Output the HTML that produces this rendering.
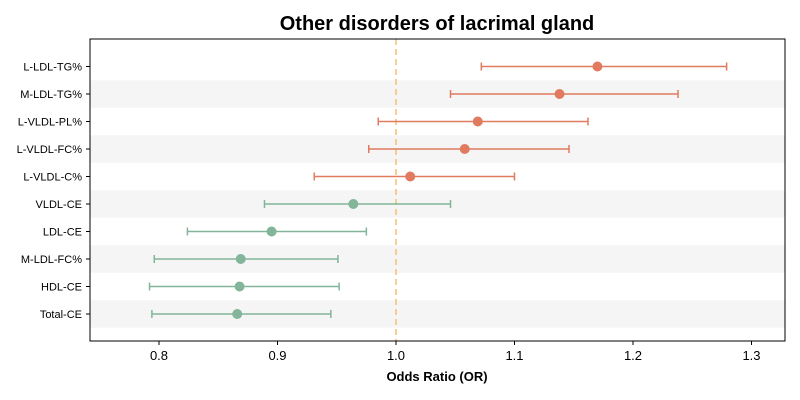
<!DOCTYPE html>
<html><head><meta charset="utf-8"><style>
html,body{margin:0;padding:0;background:#fff;}
svg{display:block;font-family:"Liberation Sans",sans-serif;}
</style></head><body>
<svg id="chart" width="800" height="400">
<text x="437" y="30" text-anchor="middle" font-size="20" font-weight="bold">Other disorders of lacrimal gland</text>
<g id="bands"></g><g id="grid"></g><g id="marks"></g><g id="axes"></g>
<text x="437" y="381" text-anchor="middle" font-size="13" font-weight="bold">Odds Ratio (OR)</text>
</svg>
<script>
const labels=["L-LDL-TG%","M-LDL-TG%","L-VLDL-PL%","L-VLDL-FC%","L-VLDL-C%","VLDL-CE","LDL-CE","M-LDL-FC%","HDL-CE","Total-CE"];
const orValues=[1.170,1.138,1.069,1.058,1.012,0.964,0.895,0.869,0.868,0.866];
const ciLow=[1.072,1.046,0.985,0.977,0.931,0.889,0.824,0.796,0.792,0.794];
const ciHigh=[1.279,1.238,1.162,1.146,1.100,1.046,0.975,0.951,0.952,0.945];
const xTicks=[0.8,0.9,1.0,1.1,1.2,1.3];
const xTickLabels=["0.8","0.9","1.0","1.1","1.2","1.3"];
const NS="http://www.w3.org/2000/svg";
const L=90,R=785,T=39,B=341;
const x=v=>396+(v-1)*1185;
const step=27.5;
const y=i=>66.5+i*step;
function mk(tag,attrs,parent,text){const e=document.createElementNS(NS,tag);for(const k in attrs)e.setAttribute(k,attrs[k]);if(text!==undefined)e.textContent=text;document.getElementById(parent).appendChild(e);return e;}
labels.forEach((lab,i)=>{
 if(i%2===1){const b=mk('rect',{x:L,y:y(i)-step/2,width:R-L,height:step,fill:'#f5f5f5'},'bands');
  
  }
 const c=orValues[i]>1?'#e07b5f':'#82b59a';
 const g=mk('g',{},'marks');
 
 
 const yy=y(i);
 [['line',{x1:x(ciLow[i]),x2:x(ciHigh[i]),y1:yy,y2:yy}],['line',{x1:x(ciLow[i]),x2:x(ciLow[i]),y1:yy-4,y2:yy+4}],['line',{x1:x(ciHigh[i]),x2:x(ciHigh[i]),y1:yy-4,y2:yy+4}]].forEach(([t,a])=>{a.stroke=c;a['stroke-width']=1.5;const e=document.createElementNS(NS,t);for(const k in a)e.setAttribute(k,a[k]);g.appendChild(e);});
 const p=document.createElementNS(NS,'circle');p.setAttribute('cx',x(orValues[i]));p.setAttribute('cy',yy);p.setAttribute('r',5);p.setAttribute('fill',c);g.appendChild(p);
 const tk=mk('line',{x1:L-4,x2:L,y1:yy,y2:yy,stroke:'#000'},'axes');
 
 
 const t=mk('text',{x:L-8,y:yy+4,'text-anchor':'end','font-size':11},'axes',lab);
 
 
});
const ref=mk('line',{x1:x(1),x2:x(1),y1:T,y2:B,stroke:'#f5c26b','stroke-width':1.5,'stroke-dasharray':'6,4'},'grid');


const frame=mk('rect',{x:L,y:T,width:R-L,height:B-T,fill:'none',stroke:'#000','stroke-width':1},'axes');


xTicks.forEach((v,i)=>{
 const tk=mk('line',{x1:x(v),x2:x(v),y1:B,y2:B+4,stroke:'#000'},'axes');
 
 
 const t=mk('text',{x:x(v),y:B+19,'text-anchor':'middle','font-size':13},'axes',xTickLabels[i]);
 
 
});
</script>
</body></html>
